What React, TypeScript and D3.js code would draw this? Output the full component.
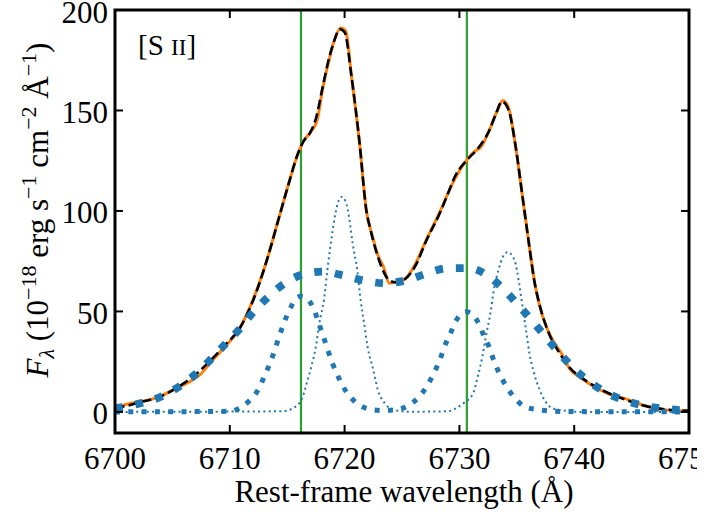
import React from "react";
import * as d3 from "d3";

// ---------- data ----------
const xTicks = [6700, 6710, 6720, 6730, 6740, 6750];
const yTicks = [0, 50, 100, 150, 200];
const restLines = [6716.2, 6730.65];

// observed spectrum (orange)
const obsWave = [6700, 6700.8, 6702.0, 6703.0, 6704.0, 6705.5, 6706.5, 6707.5, 6708.3, 6709.6, 6710.9, 6712.0, 6713.2, 6714.3, 6715.2, 6715.9, 6716.4, 6717.0, 6717.6, 6718.1, 6718.6, 6719.0, 6719.7, 6720.1, 6720.6, 6721.3, 6721.9, 6722.4, 6722.9, 6723.4, 6723.9, 6724.4, 6725.1, 6726.2, 6727.1, 6728.3, 6729.1, 6729.7, 6730.6, 6731.3, 6731.9, 6732.6, 6733.2, 6733.8, 6734.3, 6734.9, 6735.5, 6736.1, 6736.6, 6737.0, 6737.6, 6738.2, 6738.9, 6739.6, 6740.7, 6741.6, 6743.0, 6744.5, 6746.2, 6748.0, 6750];
const obsFlux = [2.0, 3.5, 5.0, 6.0, 8.0, 12.2, 15.0, 19.0, 24.5, 32.5, 42.0, 55.5, 75.0, 97.0, 115.0, 128.0, 134.5, 139.0, 145.0, 161.0, 174.0, 183.0, 191.0, 189.5, 167.0, 134.0, 100.0, 88.0, 78.0, 72.0, 64.0, 64.5, 65.5, 74.0, 85.5, 99.5, 110.0, 117.0, 125.0, 129.5, 132.0, 140.0, 148.5, 155.0, 151.0, 132.0, 107.0, 82.0, 63.0, 52.5, 42.0, 35.0, 29.0, 21.5, 16.5, 13.0, 9.0, 6.5, 3.0, 1.0, 0.6];

// total fit (black dashed)
const fitWave = [6700, 6701, 6702.2, 6703.9, 6705.5, 6707.0, 6708.3, 6709.6, 6710.9, 6712.0, 6713.2, 6714.3, 6715.2, 6715.9, 6716.4, 6717.0, 6717.5, 6718.1, 6718.6, 6719.0, 6719.6, 6720.0, 6720.6, 6721.3, 6721.9, 6722.2, 6722.8, 6723.3, 6723.8, 6724.4, 6725.1, 6726.2, 6727.1, 6728.3, 6729.1, 6729.6, 6730.6, 6731.6, 6732.6, 6733.2, 6733.7, 6734.3, 6734.9, 6735.5, 6736.1, 6736.5, 6737.0, 6737.8, 6738.7, 6739.6, 6740.7, 6741.6, 6743.0, 6744.5, 6746.2, 6748.0, 6750];
const fitFlux = [2.0, 3.0, 4.8, 7.5, 12.4, 18.5, 25.5, 33.3, 42.0, 55.0, 75.0, 97.0, 115.0, 128.0, 134.5, 139.0, 146.0, 162.0, 175.0, 183.0, 190.5, 189.0, 167.0, 134.0, 100.0, 92.0, 79.0, 71.0, 66.0, 64.5, 65.5, 73.0, 85.0, 99.0, 110.0, 117.0, 125.0, 131.0, 140.0, 148.6, 154.4, 150.0, 132.0, 107.0, 82.0, 66.0, 53.0, 39.0, 29.5, 22.0, 16.8, 13.4, 9.3, 6.0, 3.0, 1.2, 0.5];

// broad component (thick dotted)
const broadWave = [6700, 6702.2, 6703.9, 6705.5, 6707.0, 6708.3, 6709.6, 6710.9, 6712.0, 6713.3, 6714.7, 6716.3, 6718.1, 6720.0, 6721.8, 6723.6, 6725.5, 6727.2, 6729.0, 6730.8, 6732.6, 6733.9, 6735.2, 6736.4, 6737.6, 6738.8, 6740.1, 6741.5, 6743.0, 6744.7, 6746.5, 6748.3, 6750];
const broadFlux = [1.8, 4.3, 7.3, 12.3, 18.7, 25.9, 33.7, 41.6, 49.4, 57.0, 63.7, 68.3, 69.8, 67.7, 65.2, 64.0, 65.7, 69.0, 71.5, 71.5, 67.3, 60.7, 52.7, 44.9, 36.7, 28.7, 20.9, 14.3, 9.0, 5.1, 2.6, 1.3, 0.7];

// intermediate components (medium dotted)
const midWave = [6700, 6710.0, 6710.6, 6711.7, 6712.5, 6713.0, 6713.5, 6713.9, 6714.3, 6714.7, 6715.2, 6715.8, 6716.2, 6716.8, 6717.4, 6717.8, 6718.2, 6718.6, 6719.0, 6719.5, 6720.1, 6720.9, 6721.9, 6723.2, 6724.3, 6725.5, 6726.5, 6727.2, 6727.8, 6728.3, 6728.7, 6729.2, 6729.7, 6730.6, 6731.6, 6732.1, 6732.6, 6733.0, 6733.5, 6734.1, 6734.8, 6735.7, 6737.0, 6739.0, 6750];
const midFlux = [0, 0.3, 1.2, 5.6, 11.3, 17.6, 24.2, 30.5, 37.5, 44.0, 50.7, 56.5, 57.5, 56.0, 49.9, 43.3, 36.7, 29.7, 23.4, 16.8, 10.4, 5.1, 1.8, 0.7, 1.0, 3.0, 7.6, 13.1, 19.6, 25.9, 32.5, 38.8, 45.3, 49.8, 44.9, 38.3, 32.2, 25.5, 18.9, 12.6, 7.1, 2.6, 1.0, 0.2, 0];

// narrow components (fine dotted)
const narrowWave = [6700, 6714.5, 6715.5, 6716.3, 6716.7, 6717.1, 6717.5, 6717.8, 6718.2, 6718.5, 6718.8, 6719.1, 6719.4, 6719.75, 6720.1, 6720.4, 6720.7, 6721.1, 6721.4, 6721.7, 6722.0, 6722.5, 6722.9, 6723.5, 6724.3, 6725.5, 6729.0, 6729.7, 6730.4, 6731.2, 6731.6, 6732.0, 6732.3, 6732.7, 6733.0, 6733.4, 6733.8, 6734.2, 6734.8, 6735.2, 6735.5, 6735.8, 6736.1, 6736.5, 6737.0, 6737.5, 6738.1, 6739.3, 6740.5, 6750];
const narrowFlux = [0, 0.3, 1.8, 6.8, 14.3, 22.5, 32.5, 44.1, 55.7, 70.6, 83.9, 95.5, 103.8, 107.0, 104.6, 96.4, 83.9, 70.6, 55.7, 44.1, 32.5, 20.9, 10.9, 4.3, 1.0, 0.1, 0.3, 1.8, 4.5, 9.3, 17.6, 27.5, 37.5, 49.1, 60.7, 70.6, 77.3, 79.5, 75.6, 64.0, 52.4, 40.8, 29.2, 19.3, 10.9, 5.1, 1.8, 0.6, 0, 0];

// ---------- layout ----------
const W = 726;
const H = 515;
const L = 115;
const R = 689;
const T = 10;
const B = 433;
const FONT = "'Liberation Serif', 'Times New Roman', serif";
const BLUE = "#1f77b4";

export default function App() {
  const x = d3.scaleLinear().domain([6700, 6750]).range([L, R]);
  const y = d3.scaleLinear().domain([-10.5, 200]).range([B, T]);
  const mk = (ws: number[], fs: number[]) =>
    d3
      .line<number>()
      .x((_, i) => x(ws[i]))
      .y((d) => y(d))
      .curve(d3.curveMonotoneX)(fs) || "";

  const tickLen = 8;
  return (
    <svg
      width={W}
      height={H}
      style={{ position: "absolute", left: 0, top: 0, background: "#fff" }}
      fontFamily={FONT}
    >
      <defs>
        <clipPath id="plotclip">
          <rect x={L} y={T} width={R - L} height={B - T} />
        </clipPath>
        <clipPath id="edgeclip">
          <rect x={0} y={0} width={697} height={H} />
        </clipPath>
      </defs>
      <rect x={0} y={0} width={W} height={H} fill="#fff" />
      <g clipPath="url(#plotclip)">
        {restLines.map((w) => (
          <line key={w} x1={x(w)} x2={x(w)} y1={T} y2={B} stroke="#2ca02c" strokeWidth={2.2} />
        ))}
        <path d={mk(obsWave, obsFlux)} fill="none" stroke="#ff7f0e" strokeWidth={3} />
        <path d={mk(fitWave, fitFlux)} fill="none" stroke="#000" strokeWidth={2.6} strokeDasharray="9.6 4.2" />
        <path d={mk(broadWave, broadFlux)} fill="none" stroke={BLUE} strokeWidth={7.8} strokeDasharray="7.8 12.9" />
        <path d={mk(midWave, midFlux)} fill="none" stroke={BLUE} strokeWidth={5} strokeDasharray="5 8.3" />
        <path d={mk(narrowWave, narrowFlux)} fill="none" stroke={BLUE} strokeWidth={2} strokeDasharray="2 3.3" />
      </g>
      {/* ticks */}
      {xTicks.map((t) => (
        <g key={"x" + t}>
          <line x1={x(t)} x2={x(t)} y1={B} y2={B - tickLen} stroke="#000" strokeWidth={2} />
          <line x1={x(t)} x2={x(t)} y1={T} y2={T + tickLen} stroke="#000" strokeWidth={2} />
          <text
            x={x(t)}
            y={469}
            textAnchor="middle"
            fontSize={31}
            clipPath={t === 6750 ? "url(#edgeclip)" : undefined}
          >
            {t}
          </text>
        </g>
      ))}
      {yTicks.map((t) => (
        <g key={"y" + t}>
          <line x1={L} x2={L + tickLen} y1={y(t)} y2={y(t)} stroke="#000" strokeWidth={2} />
          <line x1={R} x2={R - tickLen} y1={y(t)} y2={y(t)} stroke="#000" strokeWidth={2} />
          <text x={108} y={y(t) + 12.5} textAnchor="end" fontSize={31}>
            {t}
          </text>
        </g>
      ))}
      <rect x={L} y={T} width={R - L} height={B - T} fill="none" stroke="#000" strokeWidth={3} />
      {/* annotation */}
      <text x={138} y={55} fontSize={29}>
        [S <tspan fontSize={23}>II</tspan>]
      </text>
      {/* axis labels */}
      <text x={404} y={502} textAnchor="middle" fontSize={31}>
        Rest-frame wavelength (Å)
      </text>
      <text transform="translate(48,210) rotate(-90)" textAnchor="middle" fontSize={31}>
        <tspan fontStyle="italic">F</tspan>
        <tspan fontStyle="italic" fontSize={22} dy={6}>λ</tspan>
        <tspan dy={-6}> (10</tspan>
        <tspan fontSize={22} dy={-12}>−18</tspan>
        <tspan dy={12}> erg s</tspan>
        <tspan fontSize={22} dy={-12}>−1</tspan>
        <tspan dy={12}> cm</tspan>
        <tspan fontSize={22} dy={-12}>−2</tspan>
        <tspan dy={12}> Å</tspan>
        <tspan fontSize={22} dy={-12}>−1</tspan>
        <tspan dy={12}>)</tspan>
      </text>
    </svg>
  );
}
